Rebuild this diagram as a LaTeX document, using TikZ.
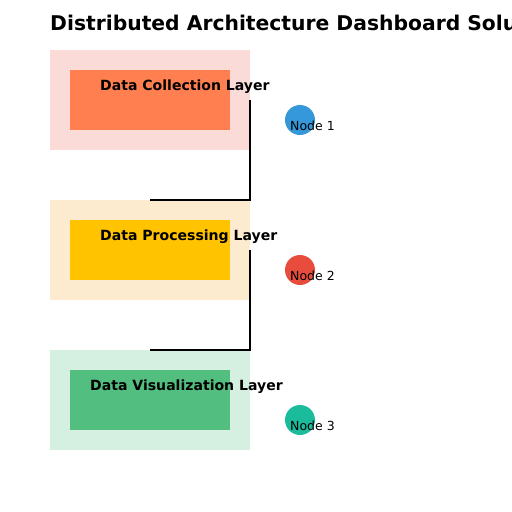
\documentclass[tikz,border=0pt]{standalone}
\usepackage{fontspec}
\setmainfont{DejaVu Sans}
\definecolor{outA}{HTML}{FADBD8}
\definecolor{outB}{HTML}{FDEBD0}
\definecolor{outC}{HTML}{D5EFE0}
\definecolor{inA}{HTML}{FF7F50}
\definecolor{inB}{HTML}{FFC300}
\definecolor{inC}{HTML}{52BE80}
\definecolor{nA}{HTML}{3498DB}
\definecolor{nB}{HTML}{E74C3C}
\definecolor{nC}{HTML}{1ABC9C}
\begin{document}
\begin{tikzpicture}[x=1pt,y=-1pt,
  outerbox/.style={rectangle,inner sep=0pt,minimum width=200pt,minimum height=100pt},
  innerbox/.style={rectangle,inner sep=0pt,minimum width=160pt,minimum height=60pt},
  layerlabel/.style={anchor=base west,inner sep=0pt,font=\fontsize{14.05}{16}\selectfont\bfseries},
  dot/.style={circle,inner sep=0pt,minimum size=30pt},
  dotlabel/.style={anchor=base west,inner sep=0pt,font=\fontsize{12.5}{15}\selectfont},
  conn/.style={draw=black,line width=2pt}]
\path[use as bounding box,clip] (0,0) rectangle (512,512);
\fill[white] (0,0) rectangle (512,512);
\node[anchor=base west,inner sep=0pt,font=\fontsize{20.3}{24}\selectfont\bfseries] (title) at (50,30) {Distributed Architecture Dashboard Solution};
\node[outerbox,fill=outA] (L1) at (150,100) {};
\node[innerbox,fill=inA] (I1) at (150,100) {};
\node[outerbox,fill=outB] (L2) at (150,250) {};
\node[innerbox,fill=inB] (I2) at (150,250) {};
\node[outerbox,fill=outC] (L3) at (150,400) {};
\node[innerbox,fill=inC] (I3) at (150,400) {};
\node[layerlabel] (T1) at (100,90.5) {Data Collection Layer};
\node[layerlabel] (T2) at (100,240.5) {Data Processing Layer};
\node[layerlabel] (T3) at (90,390.5) {Data Visualization Layer};
\draw[conn] (L1.east) |- (L2.north);
\draw[conn] (L2.east) |- (L3.north);
\node[dot,fill=nA] (N1) at (300,120) {};
\node[dot,fill=nB] (N2) at (300,270) {};
\node[dot,fill=nC] (N3) at (300,420) {};
\node[dotlabel] (D1) at (290,130) {Node 1};
\node[dotlabel] (D2) at (290,280) {Node 2};
\node[dotlabel] (D3) at (290,430) {Node 3};
\end{tikzpicture}
\end{document}
